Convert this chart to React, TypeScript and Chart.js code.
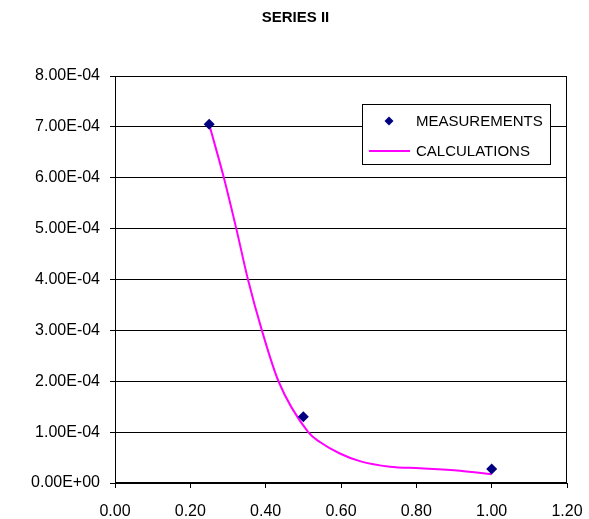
import React, { useEffect, useRef } from "react";
import { Chart, registerables } from "chart.js";

Chart.register(...registerables);

const TITLE = "SERIES II";
const MEAS_LABEL = "MEASUREMENTS";
const CALC_LABEL = "CALCULATIONS";

const measX = [0.25, 0.5, 1.0];
const measY = [7.05e-4, 1.3e-4, 2.75e-5];

const calcX = [0.25, 0.289, 0.322, 0.353, 0.39, 0.434, 0.513, 0.545, 0.597, 0.65, 0.73, 0.81, 0.916, 1.0];
const calcY = [7.05e-4, 6.0e-4, 5.0e-4, 4.0e-4, 3.0e-4, 2.0e-4, 1.0e-4, 0.8e-4, 0.58e-4, 0.43e-4, 0.32e-4, 0.29e-4, 0.24e-4, 0.17e-4];

const xTicks = [0, 0.2, 0.4, 0.6, 0.8, 1.0, 1.2];
const yTicks = [0, 1e-4, 2e-4, 3e-4, 4e-4, 5e-4, 6e-4, 7e-4, 8e-4];

const FONT = "'Liberation Sans', Arial, sans-serif";

function sci(v: number): string {
  if (Math.abs(v) < 1e-12) return "0.00E+00";
  const [m, e] = v.toExponential(2).split("e");
  const n = parseInt(e, 10);
  return m + "E" + (n < 0 ? "-" : "+") + String(Math.abs(n)).padStart(2, "0");
}

const framePlugin = {
  id: "frameAndLegend",
  afterDatasetsDraw(chart: any) {
    const { ctx, chartArea } = chart;
    ctx.save();
    ctx.strokeStyle = "#000";
    ctx.lineWidth = 1;
    ctx.strokeRect(
      Math.round(chartArea.left) + 0.5,
      Math.round(chartArea.top) + 0.5,
      Math.round(chartArea.right - chartArea.left) - 1,
      Math.round(chartArea.bottom - chartArea.top) - 1
    );
    // title
    ctx.fillStyle = "#000";
    ctx.font = "bold 15px " + FONT;
    ctx.textAlign = "center";
    ctx.textBaseline = "middle";
    ctx.fillText(TITLE, chart.width / 2 + 1, 18);
    // legend
    const lx = Math.round(chartArea.right) - 205;
    const ly = Math.round(chartArea.top) + 28;
    const lw = 188;
    const lh = 60;
    ctx.fillStyle = "#fff";
    ctx.fillRect(lx, ly, lw, lh);
    ctx.strokeRect(lx + 0.5, ly + 0.5, lw, lh);
    const ds = chart.data.datasets;
    const cx = lx + 27;
    const cy1 = ly + 17;
    ctx.fillStyle = ds[0].backgroundColor;
    ctx.beginPath();
    ctx.moveTo(cx, cy1 - 4.5);
    ctx.lineTo(cx + 4.5, cy1);
    ctx.lineTo(cx, cy1 + 4.5);
    ctx.lineTo(cx - 4.5, cy1);
    ctx.closePath();
    ctx.fill();
    const cy2 = ly + 47;
    ctx.strokeStyle = ds[1].borderColor;
    ctx.lineWidth = 2;
    ctx.beginPath();
    ctx.moveTo(lx + 7, cy2);
    ctx.lineTo(lx + 48, cy2);
    ctx.stroke();
    ctx.fillStyle = "#000";
    ctx.font = "15px " + FONT;
    ctx.textBaseline = "middle";
    ctx.textAlign = "left";
    ctx.fillText(ds[0].label, lx + 54, cy1 + 1);
    ctx.fillText(ds[1].label, lx + 54, cy2 + 1);
    ctx.restore();
  },
};

export default function App() {
  const ref = useRef<HTMLCanvasElement>(null);
  useEffect(() => {
    if (!ref.current) return;
    const chart = new Chart(ref.current, {
      type: "scatter",
      data: {
        datasets: [
          {
            label: MEAS_LABEL,
            data: measX.map((x, i) => ({ x, y: measY[i] })),
            backgroundColor: "#000080",
            borderColor: "#000080",
            pointStyle: "rectRot",
            pointRadius: 5.5,
            pointBorderWidth: 0,
            showLine: false,
          },
          {
            label: CALC_LABEL,
            data: calcX.map((x, i) => ({ x, y: calcY[i] })),
            borderColor: "#FF00FF",
            backgroundColor: "#FF00FF",
            borderWidth: 2,
            pointRadius: 0,
            showLine: true,
            cubicInterpolationMode: "monotone",
          },
        ],
      },
      plugins: [framePlugin],
      options: {
        responsive: false,
        animation: false,
        layout: { padding: { top: 76, left: 0, right: 22, bottom: 0 } },
        plugins: {
          legend: { display: false },
          tooltip: { enabled: false },
          title: { display: false },
        },
        scales: {
          x: {
            type: "linear",
            min: 0,
            max: 1.2,
            afterBuildTicks: (s: any) => {
              s.ticks = xTicks.map((v) => ({ value: v }));
            },
            afterFit: (s: any) => {
              s.height = 36;
              s.paddingLeft = 0;
              s.paddingRight = 0;
            },
            ticks: {
              color: "#000",
              font: { family: FONT, size: 16 },
              padding: 14,
              maxRotation: 0,
              autoSkip: false,
              callback: (v: any) => Number(v).toFixed(2),
            },
            grid: {
              drawOnChartArea: false,
              drawTicks: true,
              tickLength: 5,
              tickColor: "#000",
              color: "#000",
            },
            border: { color: "#000", width: 1 },
          },
          y: {
            type: "linear",
            min: 0,
            max: 8e-4,
            afterBuildTicks: (s: any) => {
              s.ticks = yTicks.map((v) => ({ value: v }));
            },
            afterFit: (s: any) => {
              s.width = 115;
              s.paddingTop = 0;
              s.paddingBottom = 0;
            },
            ticks: {
              color: "#000",
              font: { family: FONT, size: 16 },
              padding: 10,
              autoSkip: false,
              callback: (v: any) => sci(Number(v)),
            },
            grid: {
              drawOnChartArea: true,
              drawTicks: true,
              tickLength: 5,
              tickColor: "#000",
              color: "#000",
              lineWidth: 1,
            },
            border: { color: "#000", width: 1 },
          },
        },
      },
    } as any);
    return () => chart.destroy();
  }, []);
  return (
    <div style={{ position: "fixed", left: 0, top: 0, width: 589, height: 519, background: "#fff" }}>
      <canvas ref={ref} width={589} height={519} />
    </div>
  );
}
